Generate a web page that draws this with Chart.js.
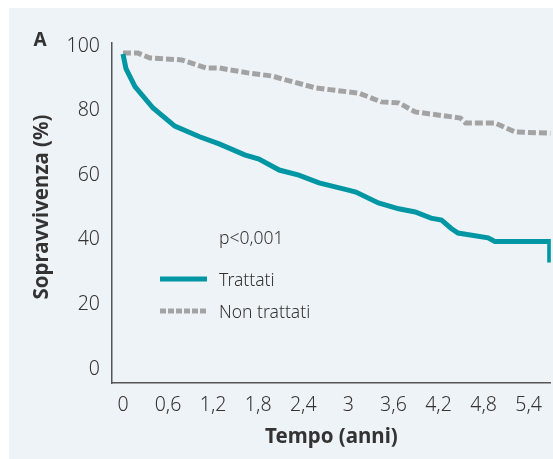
<!DOCTYPE html>
<html>
<head>
<meta charset="utf-8">
<script src="https://cdn.jsdelivr.net/npm/chart.js@4"></script>
<style>
  html, body { margin: 0; padding: 0; background: #ffffff; }
  #wrap { position: absolute; left: 9px; top: 8px; width: 544px; height: 451px; background: #eef3f8; }
</style>
</head>
<body>
<div id="wrap"><canvas id="survChart"></canvas></div>
<script>
// Kaplan-Meier curves
const treatedTime = [0, 0.04, 0.16, 0.4, 0.69, 1.02, 1.28, 1.62, 1.81, 2.08, 2.34, 2.61, 3.0, 3.1, 3.4, 3.67, 3.89, 4.1, 4.24, 4.37, 4.46, 4.86, 4.95, 5.68, 5.68];
const treatedSurv = [97.5, 93, 87.4, 80.8, 75.2, 71.9, 69.7, 66.3, 65, 61.6, 60, 57.6, 55.4, 54.8, 51.4, 49.6, 48.6, 46.7, 46.1, 43.5, 42.1, 40.6, 39.5, 39.5, 33];
const untreatedTime = [0, 0.2, 0.36, 0.78, 1.11, 1.28, 1.68, 1.99, 2.12, 2.57, 3.14, 3.44, 3.67, 3.89, 4.49, 4.56, 4.95, 5.22, 5.69];
const untreatedSurv = [97.8, 97.8, 96.3, 95.7, 93.2, 93.2, 91.6, 90.7, 89.8, 87, 85.4, 82.7, 82.4, 79.6, 77.7, 76.2, 76.2, 73.4, 73];

const xTicks = [0, 0.6, 1.2, 1.8, 2.4, 3, 3.6, 4.2, 4.8, 5.4];
const xTickLabels = ["0", "0,6", "1,2", "1,8", "2,4", "3", "3,6", "4,2", "4,8", "5,4"];
const yTicks = [0, 20, 40, 60, 80, 100];

const seriesNames = ["Trattati", "Non trattati"];
const pValue = "p<0,001";
const panelLabel = "A";
const xTitle = "Tempo (anni)";
const yTitle = "Sopravvivenza (%)";

const TEAL = "#0096a4";
const GREY = "#a3a3a3";
const TEXT = "#333333";
const FONT = "'Noto Sans', 'Open Sans', sans-serif";

const toPoints = (xs, ys) => xs.map((x, i) => ({ x, y: ys[i] }));

const extras = {
  id: "extras",
  afterDraw(chart) {
    const ctx = chart.ctx;
    const area = chart.chartArea;
    ctx.save();
    ctx.fillStyle = TEXT;

    // panel letter
    ctx.font = "bold 19px " + FONT;
    ctx.textAlign = "center";
    ctx.textBaseline = "middle";
    ctx.fillText(panelLabel, 31, 33);

    // axis titles
    ctx.font = "bold 20.5px " + FONT;
    ctx.fillText(xTitle, (area.left + area.right) / 2, 429);
    ctx.save();
    ctx.translate(33, 199);
    ctx.rotate(-Math.PI / 2);
    ctx.fillText(yTitle, 0, 0);
    ctx.restore();

    // p value + legend
    ctx.font = "300 17.5px " + FONT;
    ctx.textAlign = "left";
    ctx.fillText(pValue, 210, 231);

    const rows = [271, 303];
    chart.data.datasets.forEach((ds, i) => {
      const y = rows[i];
      ctx.beginPath();
      ctx.strokeStyle = ds.borderColor;
      ctx.lineWidth = 5;
      ctx.setLineDash(ds.borderDash && ds.borderDash.length ? [6, 2] : []);
      ctx.moveTo(151, y);
      ctx.lineTo(198, y);
      ctx.stroke();
      ctx.setLineDash([]);
      ctx.fillStyle = TEXT;
      ctx.fillText(ds.label, 210, y + 2);
    });
    ctx.restore();
  }
};

new Chart(document.getElementById("survChart"), {
  type: "line",
  data: {
    datasets: [
      {
        label: seriesNames[0],
        data: toPoints(treatedTime, treatedSurv),
        borderColor: TEAL,
        borderWidth: 5,
        pointRadius: 0,
        tension: 0,
        fill: false
      },
      {
        label: seriesNames[1],
        data: toPoints(untreatedTime, untreatedSurv),
        borderColor: GREY,
        borderWidth: 5,
        borderDash: [8, 3],
        pointRadius: 0,
        tension: 0,
        fill: false
      }
    ]
  },
  options: {
    responsive: true,
    maintainAspectRatio: false,
    animation: false,
    layout: { padding: { top: 35, left: 0, right: 0, bottom: 0 } },
    plugins: {
      legend: { display: false },
      tooltip: { enabled: false }
    },
    scales: {
      x: {
        type: "linear",
        min: -0.146,
        max: 5.695,
        grid: { display: false, drawTicks: false },
        border: { display: true, color: "#555555", width: 1.5 },
        afterBuildTicks: scale => { scale.ticks = xTicks.map(v => ({ value: v })); },
        afterFit: scale => { scale.height = 76; },
        ticks: {
          autoSkip: false,
          maxRotation: 0,
          padding: 11,
          color: TEXT,
          font: { family: FONT, size: 19.5, weight: "300" },
          callback: (v) => {
            const i = xTicks.findIndex(t => Math.abs(t - v) < 1e-6);
            return i >= 0 ? xTickLabels[i] : "";
          }
        }
      },
      y: {
        min: -4.33,
        max: 100.93,
        grid: { display: false, drawTicks: false },
        border: { display: true, color: "#555555", width: 1.5 },
        afterBuildTicks: scale => { scale.ticks = yTicks.map(v => ({ value: v })); },
        afterFit: scale => { scale.width = 103; },
        ticks: {
          padding: 12,
          color: TEXT,
          font: { family: FONT, size: 19.5, weight: "300" }
        }
      }
    }
  },
  plugins: [extras]
});
</script>
</body>
</html>
